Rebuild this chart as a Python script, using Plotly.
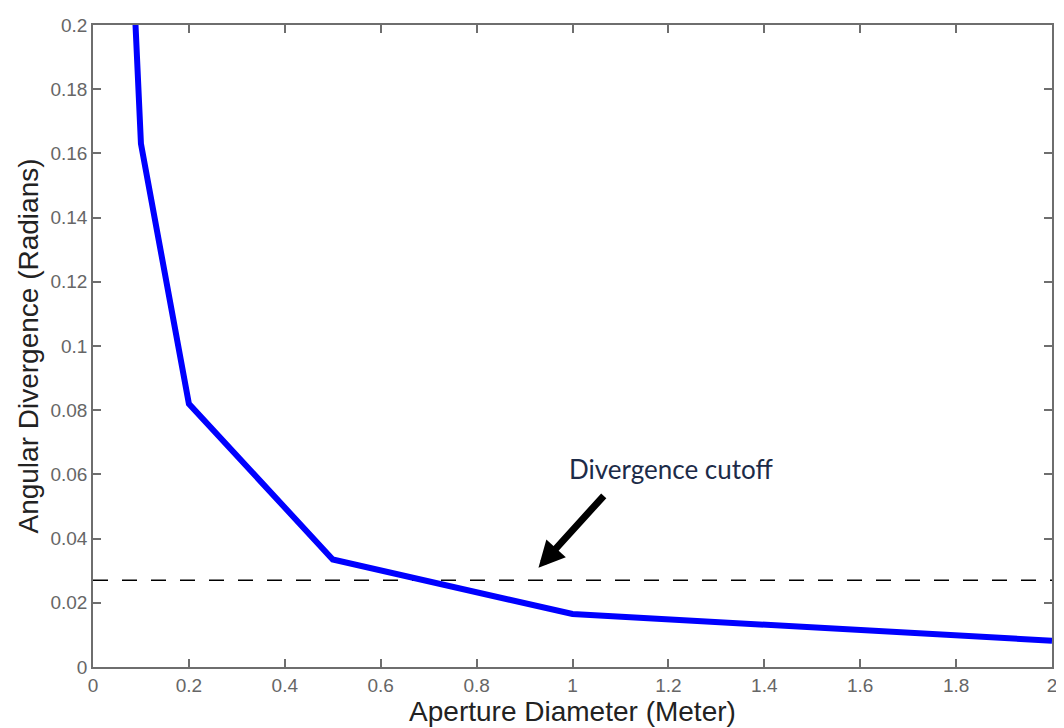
import plotly.graph_objects as go

# Data
aperture = [0.05, 0.1, 0.2, 0.5, 1.0, 2.0]
divergence = [0.326, 0.163, 0.082, 0.0335, 0.0165, 0.0082]
cutoff_value = 0.027
x_ticks = [0, 0.2, 0.4, 0.6, 0.8, 1.0, 1.2, 1.4, 1.6, 1.8, 2.0]
x_labels = ["0", "0.2", "0.4", "0.6", "0.8", "1", "1.2", "1.4", "1.6", "1.8", "2"]
y_ticks = [0, 0.02, 0.04, 0.06, 0.08, 0.1, 0.12, 0.14, 0.16, 0.18, 0.2]
y_labels = ["0", "0.02", "0.04", "0.06", "0.08", "0.1", "0.12", "0.14", "0.16", "0.18", "0.2"]
annotation_text = "Divergence cutoff"

fig = go.Figure()
fig.add_trace(go.Scatter(x=[0, 2], y=[cutoff_value, cutoff_value], mode="lines",
                         line=dict(color="black", width=1.5, dash="15px,14px"),
                         showlegend=False, hoverinfo="skip"))
fig.add_trace(go.Scatter(x=aperture, y=divergence, mode="lines",
                         line=dict(color="#0000FF", width=6),
                         showlegend=False))

fig.add_annotation(x=0.929, y=0.0309, ax=1.068, ay=0.0538, xref="x", yref="y",
                   axref="x", ayref="y", text="", showarrow=True,
                   arrowhead=2, arrowsize=0.75, arrowwidth=7, arrowcolor="black")
fig.add_annotation(x=1.205, y=0.0618, xref="x", yref="y", text=annotation_text,
                   showarrow=False, font=dict(family="Lato", size=26, color="#1c2b48"))

axis_common = dict(showline=True, linecolor="#6e6e6e", linewidth=1.5, mirror="ticks",
                   ticks="inside", ticklen=8, tickcolor="#6e6e6e", tickwidth=1.5,
                   showgrid=False, zeroline=False,
                   tickfont=dict(family="Liberation Sans", size=19, color="#666666"))

fig.update_xaxes(range=[0, 2], tickvals=x_ticks, ticktext=x_labels,
                 title=dict(text="Aperture Diameter (Meter)", standoff=2,
                            font=dict(family="Liberation Sans", size=28, color="#222222")),
                 **axis_common)
fig.update_yaxes(range=[0, 0.2], tickvals=y_ticks, ticktext=y_labels,
                 title=dict(text="Angular Divergence (Radians)", standoff=4,
                            font=dict(family="Liberation Sans", size=28, color="#222222")),
                 **axis_common)

fig.update_layout(width=1056, height=720, plot_bgcolor="white", paper_bgcolor="white",
                  margin=dict(l=85, r=7, t=12, b=61), showlegend=False)

fig.write_html("out.html")
